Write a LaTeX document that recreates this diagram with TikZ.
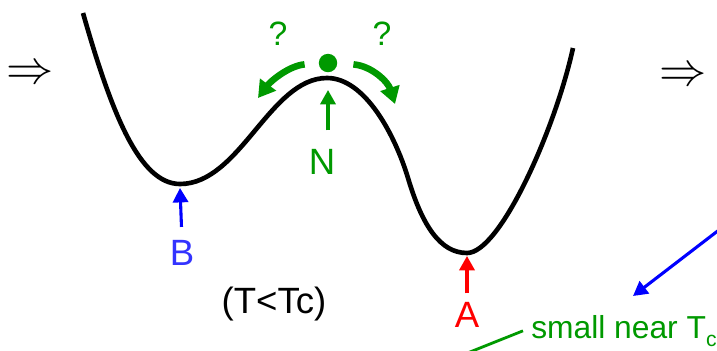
\documentclass[tikz,border=0pt]{standalone}
\usepackage{fontspec}
\usepackage{graphicx}
\setmainfont{Liberation Sans}
\usetikzlibrary{arrows.meta}
\definecolor{leafgreen}{RGB}{0,153,0}
\definecolor{labelblue}{RGB}{51,51,255}
\newcommand{\bigimplies}{\scalebox{1.35}{$\Rightarrow$}}

\begin{document}
\begin{tikzpicture}[
  x=0.025cm, y=-0.025cm,
  >={Triangle[length=3.6mm, width=3.8mm]},
  every node/.style={inner sep=0pt},
  lbl/.style={font=\fontsize{26}{30}\selectfont},
  qmark/.style={font=\fontsize{24}{28}\selectfont, text=leafgreen},
  implies/.style={font=\fontsize{24.88}{28}\selectfont},
  ptr/.style={->, line width=2.2pt},
  hop/.style={-{Triangle[length=4.2mm, width=4.8mm]}, line width=4.7pt, draw=leafgreen}
]
\useasboundingbox (0,0) rectangle (717,350);
\clip (0,0) rectangle (717,350);

\node[implies] (leftimp) at (30,75) {\bigimplies};
\node[implies] (rightimp) at (683,77) {\bigimplies};

\draw[line width=3.3pt]
  (83,13) .. controls (112,115) and (140,184) .. (180,184)
  .. controls (240,184) and (270,78) .. (327,78)
  .. controls (365,78) and (395,135) .. (408,178)
  .. controls (422,225) and (440,253) .. (467,253)
  .. controls (500,253) and (555,130) .. (573,48);

\coordinate (wellB) at (180,188);
\coordinate (wellA) at (467,256);
\coordinate (Ntop) at (328,90);

\node[circle, fill=leafgreen, minimum size=0.46cm] (ball) at (328,63) {};
\coordinate (hopL) at (258,98);
\coordinate (hopR) at (395,104);
\draw[hop, shorten <=0.35cm] (ball.west) .. controls (288,66) and (270,82) .. (hopL);
\draw[hop, shorten <=0.4cm] (ball.east) .. controls (372,66) and (388,82) .. (hopR);
\node[qmark] (qleft) at (278,34) {?};
\node[qmark] (qright) at (382,34) {?};

\node[lbl, text=leafgreen] (Nlbl) at (322,162) {N};
\node[lbl, text=labelblue] (Blbl) at (182,253) {B};
\node[lbl, text=red] (Albl) at (467,315) {A};
\draw[ptr, leafgreen, shorten <=0.47cm] (Nlbl.north -| Ntop) -- (Ntop);
\draw[ptr, blue, shorten <=0.33cm] (Blbl.north) -- (wellB);
\draw[ptr, red, shorten <=0.22cm] (Albl.north) -- (wellA);

\node[lbl] (Tlow) at (274,304) {(T<Tc)};

\coordinate (blueFrom) at (745,210);
\coordinate (blueTo) at (633,296);
\draw[ptr, blue] (blueFrom) -- (blueTo);

\node[anchor=base west, inner sep=0.2cm, text=leafgreen,
      font=\fontsize{22.6}{26}\selectfont] (nearTc) at (523,338)
  {small near T\raisebox{-6pt}{\fontsize{15}{17}\selectfont c}};
\coordinate (tcLead) at (455,358);
\draw[line width=2pt, leafgreen] (nearTc.west) -- (tcLead);
\end{tikzpicture}
\end{document}
